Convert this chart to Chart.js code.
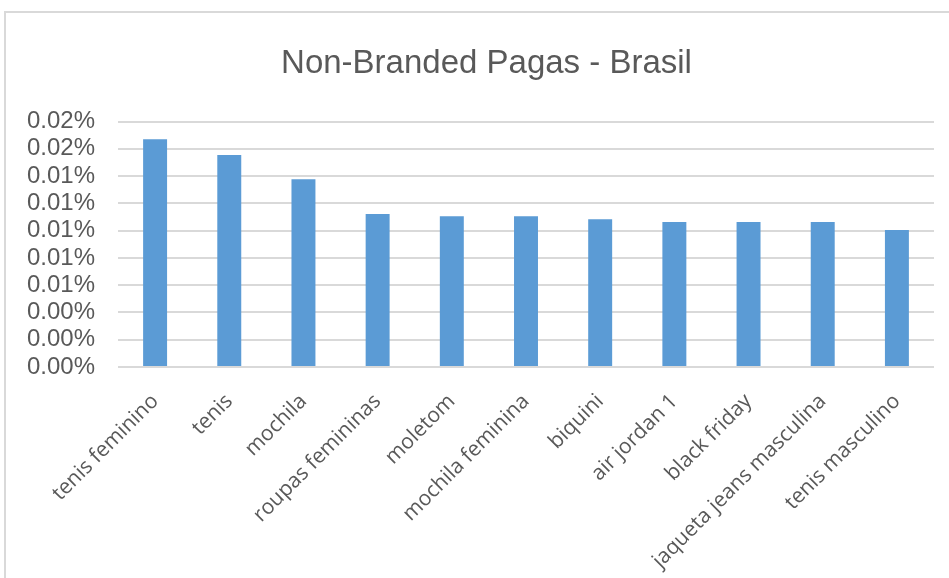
<!DOCTYPE html>
<html>
<head>
<meta charset="utf-8">
<script src="https://cdn.jsdelivr.net/npm/chart.js@4.4.1/dist/chart.umd.min.js"></script>
<style>
  html, body { margin: 0; padding: 0; background: #ffffff; }
  #wrap { position: relative; width: 949px; height: 578px; overflow: hidden; }
  #frame { position: absolute; left: 4px; top: 11px; width: 960px; height: 600px;
           border-left: 2px solid #d9d9d9; border-top: 2px solid #d9d9d9; box-sizing: border-box; pointer-events: none; }
  canvas { position: absolute; left: 0; top: 0; }
</style>
</head>
<body>
<div id="wrap">
  <canvas id="c" width="949" height="578"></canvas>
  <div id="frame"></div>
</div>
<script>
const chartTitle = 'Non-Branded Pagas - Brasil';
const categories = ['tenis feminino', 'tenis', 'mochila', 'roupas femininas', 'moletom',
  'mochila feminina', 'biquini', 'air jordan 1', 'black friday', 'jaqueta jeans masculina', 'tenis masculino'];
const shareValues = [0.0001671, 0.0001555, 0.0001377, 0.0001122, 0.0001105,
  0.0001105, 0.0001083, 0.0001063, 0.0001063, 0.0001063, 0.0001004];
const yTickLabels = ['0.00%', '0.00%', '0.00%', '0.01%', '0.01%', '0.01%', '0.01%', '0.01%', '0.02%', '0.02%'];

const textColor = '#595959';
const gridColor = '#d9d9d9';

// let the y tick labels extend left of the padded scale box
const unclipLabels = {
  id: 'unclipLabels',
  afterLayout(chart) { chart.scales.y.left = 0; }
};

new Chart(document.getElementById('c'), {
  type: 'bar',
  data: {
    labels: categories,
    datasets: [{
      data: shareValues,
      backgroundColor: '#5b9bd5',
      borderWidth: 0,
      categoryPercentage: 1,
      barPercentage: 0.323
    }]
  },
  plugins: [unclipLabels],
  options: {
    responsive: false,
    animation: false,
    layout: { padding: { left: 39, right: 15, top: 0, bottom: 0 } },
    plugins: {
      legend: { display: false },
      tooltip: { enabled: false },
      title: {
        display: true,
        text: chartTitle,
        color: textColor,
        font: { family: "'Liberation Sans', Arial, sans-serif", size: 33, weight: 'normal' },
        padding: { top: 44, bottom: 38 }
      }
    },
    scales: {
      x: {
        grid: { display: false, drawTicks: false },
        border: { display: false },
        ticks: {
          color: textColor,
          font: { family: "'Open Sans', sans-serif", size: 21 },
          minRotation: 45,
          maxRotation: 45,
          padding: 22,
          autoSkip: false
        },
        afterFit: (s) => { s.height = 211; }
      },
      y: {
        min: 0,
        max: 0.00018,
        grid: { color: gridColor, lineWidth: 2, drawTicks: false },
        border: { display: false },
        ticks: {
          stepSize: 0.00002,
          autoSkip: false,
          color: textColor,
          padding: 23,
          font: { family: "'Liberation Sans', Arial, sans-serif", size: 24 },
          callback: (v, i) => yTickLabels[i]
        },
        afterFit: (s) => { s.width = 79; }
      }
    }
  }
});
</script>
</body>
</html>
